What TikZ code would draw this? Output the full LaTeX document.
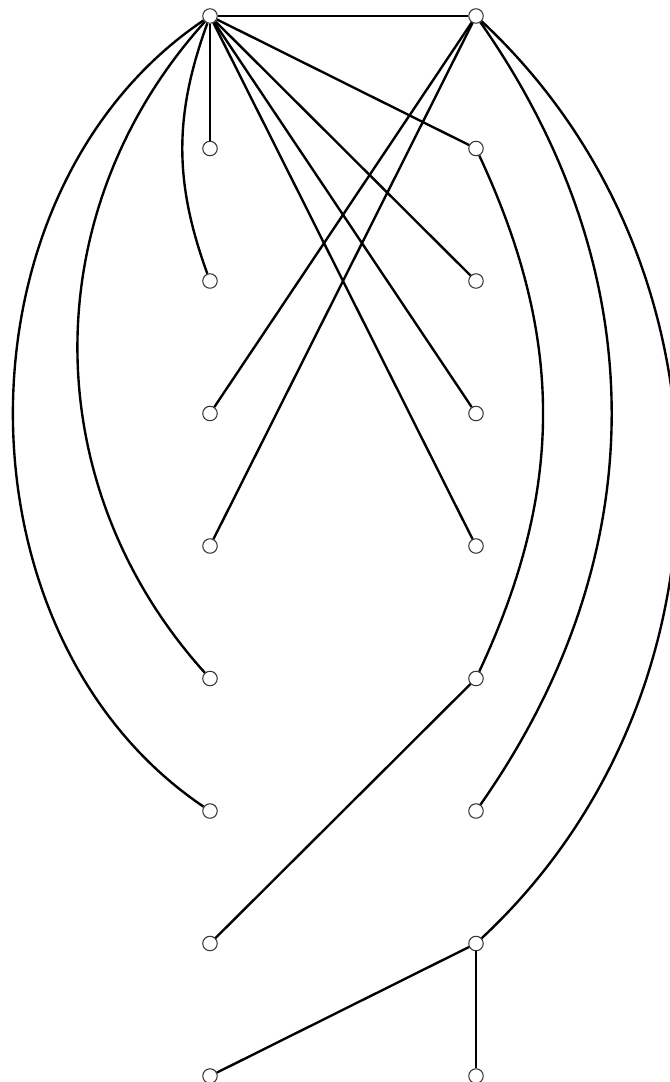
\documentclass[tikz,border=0pt]{standalone}
\usetikzlibrary{arrows.meta,calc}

\begin{document}
\begin{tikzpicture}[
  vtx/.style={circle,draw=black!80,fill=white,line width=0.6pt,inner sep=0pt,minimum size=0.29cm},
  edge/.style={line width=1.35pt}]
  \useasboundingbox (0,0) rectangle (13.4,-21.64);
  % two columns of vertices
  \foreach \i in {0,...,8} {
    \node[vtx] (l\i) at (4.2,{-0.32-2.65*\i}) {};
    \node[vtx] (r\i) at (9.52,{-0.32-2.65*\i}) {};
  }
  % straight edges
  \draw[edge] (l0)--(r0);
  \draw[edge] (l0)--(l1);
  \foreach \j in {1,...,4} \draw[edge] (l0)--(r\j);
  \draw[edge] (r0)--(l3);
  \draw[edge] (r0)--(l4);
  \draw[edge] (r5)--(l7);
  \draw[edge] (r7)--(l8);
  \draw[edge] (r7)--(r8);
  % bent edges
  \draw[edge] (l0) to[bend right=20] (l2);
  \draw[edge] (l0) to[bend right=42] (l5);
  \draw[edge] (l0) to[bend right=56] (l6);
  \draw[edge] (r0) to[bend left=35] (r6);
  \draw[edge] (r0) to[bend left=47] (r7);
  \draw[edge] (r1) to[bend left=25] (r5);
\end{tikzpicture}
\end{document}
